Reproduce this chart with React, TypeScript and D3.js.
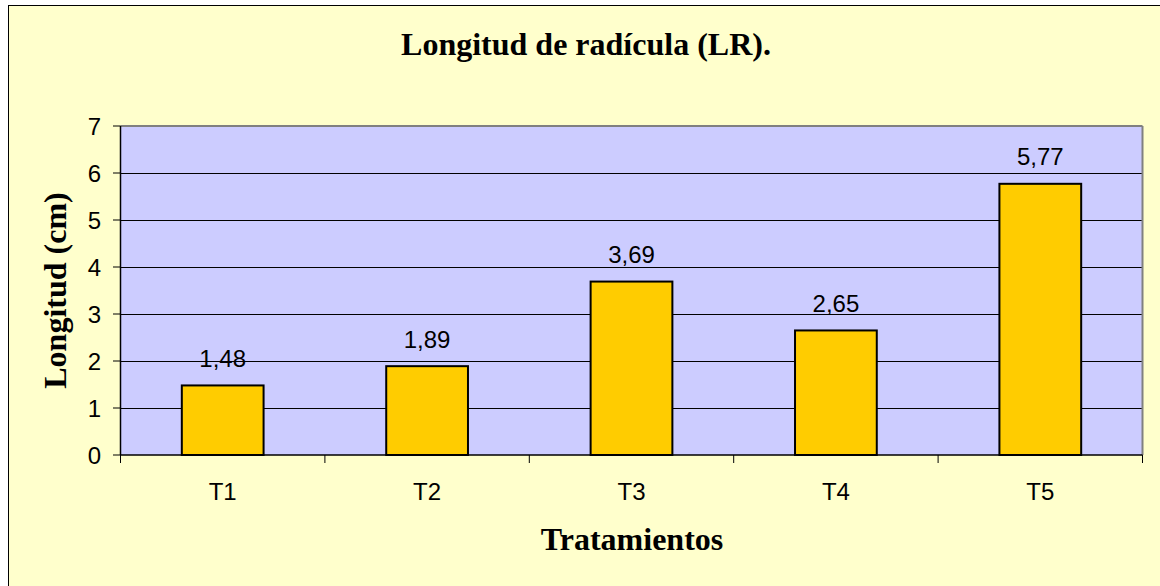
import React from "react";
import * as d3 from "d3";

const categories = ["T1", "T2", "T3", "T4", "T5"];
const values = [1.48, 1.89, 3.69, 2.65, 5.77];
const yTicks = [0, 1, 2, 3, 4, 5, 6, 7];
const labels = ["1,48", "1,89", "3,69", "2,65", "5,77"];

export default function App() {
  const W = 1160, H = 586;
  const left = 120.5, right = 1142.5, top = 126, bottom = 455;
  const x = d3.scaleBand<string>().domain(categories).range([left, right]).paddingInner(0).paddingOuter(0);
  const y = d3.scaleLinear().domain([0, 7]).range([bottom, top]);
  const bw = x.bandwidth() * 0.4;
  const serif = "'Liberation Serif', 'Times New Roman', serif";
  const sans = "'Liberation Sans', Arial, sans-serif";
  const boundaries = [...categories.map((c) => x(c)!), right];
  return (
    <svg width={W} height={H} style={{ position: "absolute", left: 0, top: 0 }}>
      <rect x={8.5} y={5.5} width={W + 20} height={H + 20} fill="#FFFFCC" stroke="#000" strokeWidth={1} />
      <text x={586} y={55} textAnchor="middle" fontFamily={serif} fontWeight="bold" fontSize={32}>
        Longitud de radícula (LR).
      </text>
      <rect x={left} y={top} width={right - left} height={bottom - top} fill="#CCCCFF" />
      {yTicks.filter((t) => t > 0 && t < 7).map((t) => (
        <line key={t} x1={left} x2={right} y1={Math.round(y(t)) + 0.5} y2={Math.round(y(t)) + 0.5} stroke="#000" strokeWidth={1} />
      ))}
      <line x1={left} x2={right} y1={top} y2={top} stroke="#808080" strokeWidth={2} />
      <line x1={right} x2={right} y1={top} y2={bottom} stroke="#808080" strokeWidth={2} />
      {categories.map((c, i) => {
        const cx = x(c)! + x.bandwidth() / 2;
        return (
          <g key={c}>
            <rect x={cx - bw / 2} y={y(values[i])} width={bw} height={bottom - y(values[i])} fill="#FFCC00" stroke="#000" strokeWidth={2} />
            <text x={cx} y={y(values[i]) - 18.5} textAnchor="middle" fontFamily={sans} fontSize={24}>
              {labels[i]}
            </text>
            <text x={cx} y={500} textAnchor="middle" fontFamily={sans} fontSize={24}>
              {c}
            </text>
          </g>
        );
      })}
      <line x1={left} x2={left} y1={top} y2={bottom} stroke="#000" strokeWidth={1.5} />
      <line x1={left} x2={right} y1={bottom} y2={bottom} stroke="#000" strokeWidth={1.5} />
      {yTicks.map((t) => (
        <g key={t}>
          <line x1={113} x2={left} y1={y(t)} y2={y(t)} stroke="#000" strokeWidth={1} />
          <text x={101} y={y(t)} dy="0.36em" textAnchor="end" fontFamily={sans} fontSize={24}>
            {t}
          </text>
        </g>
      ))}
      {boundaries.map((b, i) => (
        <line key={i} x1={b} x2={b} y1={bottom} y2={463} stroke="#000" strokeWidth={1} />
      ))}
      <text x={632} y={550} textAnchor="middle" fontFamily={serif} fontWeight="bold" fontSize={32}>
        Tratamientos
      </text>
      <text transform={`translate(66,290.5) rotate(-90)`} textAnchor="middle" fontFamily={serif} fontWeight="bold" fontSize={32}>
        Longitud (cm)
      </text>
    </svg>
  );
}
